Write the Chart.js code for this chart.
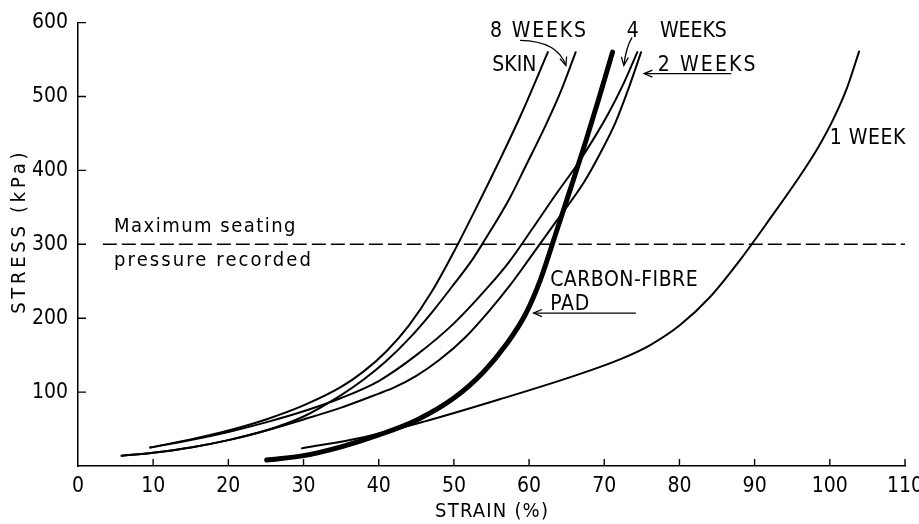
<!DOCTYPE html>
<html>
<head>
<meta charset="utf-8">
<script src="https://cdn.jsdelivr.net/npm/chart.js@4.4.0/dist/chart.umd.min.js"></script>
<style>
  html, body { margin: 0; padding: 0; background: #fff; }
  #wrap { width: 919px; height: 524px; }
</style>
</head>
<body>
<div id="wrap"><canvas id="stressChart" width="919" height="524"></canvas></div>
<script>
/* ───────────── DATA ───────────── */
const xTicks = [0, 10, 20, 30, 40, 50, 60, 70, 80, 90, 100, 110];
const yTicks = [100, 200, 300, 400, 500, 600];

const skinStrain = [9.6, 15, 20, 25, 30, 35, 38, 41, 44, 47, 50, 53, 56, 59, 62.5];
const skinStress = [25, 36, 48, 63, 82, 107, 128, 155, 190, 235, 290, 350, 412, 477, 560];

const week8Strain = [5.8, 10, 15, 20, 25, 30, 35, 38, 41, 44, 47, 50, 52.5, 54, 57.4, 59.6, 62.2, 64.3, 66.2];
const week8Stress = [14, 18, 25, 35, 48, 67, 96, 117, 142, 172, 207, 246, 280, 304, 362, 407, 461, 509, 560];

const week4Strain = [9.6, 15, 20, 25, 30, 35, 40, 45, 50, 54.7, 57.4, 60.5, 63.6, 66.4, 68.6, 70.6, 72.5, 74.4];
const week4Stress = [25, 35, 46, 59, 74, 92, 115, 150, 193, 244, 277, 322, 368, 408, 443, 478, 516, 560];

const week2Strain = [5.8, 10, 15, 20, 25, 30, 35, 40, 42, 45, 48, 51.5, 54.7, 57.5, 60, 63.6, 67.3, 69.5, 71.5, 73.2, 74.9];
const week2Stress = [14, 18, 25, 35, 48, 63, 79, 98, 106, 122, 143, 174, 210, 245, 280, 331, 384, 424, 465, 510, 560];

const week1Strain = [29.8, 38, 46, 56, 66, 72, 76, 80, 84, 88, 92, 96, 98.5, 100.5, 102.3, 103.9];
const week1Stress = [24, 39, 60, 90, 122, 144, 163, 190, 228, 278, 334, 392, 432, 470, 512, 561];

const padStrain = [25.1, 30, 35, 40, 45, 50, 54, 57, 59.5, 61.5, 63.5, 65.5, 67.5, 69.3, 71.1];
const padStress = [8, 14, 26, 42, 62, 92, 128, 165, 205, 252, 313, 375, 438, 498, 560];

const seatingStrain = [3.3, 110];
const seatingStress = [300, 300];

/* ───────────── STYLE ───────────── */
const FONT = '"DejaVu Sans Condensed", "Liberation Sans Narrow", "DejaVu Sans", sans-serif';

const pts = (xs, ys) => xs.map((x, i) => ({ x, y: ys[i] }));
const curve = (label, xs, ys, width) => ({
  label,
  data: pts(xs, ys),
  borderColor: "#000",
  borderWidth: width,
  pointRadius: 0,
  fill: false,
  cubicInterpolationMode: "monotone",
  borderCapStyle: "round"
});

/* text notes: left edge + baseline in data units, w = width in px */
const notes = [
  { text: "8 WEEKS", x: 54.8, y: 580, w: 98 },
  { text: "4", x: 73.0, y: 580, w: 11 },
  { text: "WEEKS", x: 77.4, y: 580, w: 66 },
  { text: "SKIN", x: 55.1, y: 534, w: 42 },
  { text: "2 WEEKS", x: 77.1, y: 534, w: 100 },
  { text: "1 WEEK", x: 100.0, y: 436, w: 76 },
  { text: "CARBON-FIBRE", x: 62.8, y: 243, w: 148 },
  { text: "PAD", x: 62.8, y: 211, w: 40 },
  { text: "Maximum seating", x: 4.8, y: 317, w: 183, size: 20 },
  { text: "pressure recorded", x: 4.8, y: 270, w: 199, size: 20 }
];

/* arrows: from -> (ctrl) -> tip, data units */
const arrows = [
  { from: [58.8, 576], ctrl: [63.8, 575], to: [64.9, 542] },
  { from: [73.7, 580], ctrl: [72.9, 567], to: [72.6, 542] },
  { from: [86.9, 531], to: [75.3, 531] },
  { from: [74.2, 207], to: [60.6, 207] }
];

const spacedText = (ctx, text, w, px, py, align) => {
  ctx.letterSpacing = "0px";
  const m = ctx.measureText(text).width;
  const ls = text.length > 1 ? Math.max(0, (w - m) / text.length) : 0;
  ctx.letterSpacing = ls.toFixed(2) + "px";
  const start = align === "center" ? px - (m + ls * (text.length - 1)) / 2 : px;
  ctx.fillText(text, start, py);
  ctx.letterSpacing = "0px";
};

const axisDecor = {
  id: "axisDecor",
  afterDraw(chart) {
    const { ctx, scales: { x, y }, chartArea: a } = chart;
    ctx.save();
    ctx.strokeStyle = "#000";
    ctx.lineWidth = 1.4;
    ctx.beginPath();
    xTicks.forEach(v => {
      if (v === 0) return;
      const px = x.getPixelForValue(v);
      ctx.moveTo(px, a.bottom);
      ctx.lineTo(px, a.bottom - 7);
    });
    yTicks.forEach(v => {
      const py = y.getPixelForValue(v);
      ctx.moveTo(a.left, py);
      ctx.lineTo(a.left + 8, py);
    });
    ctx.stroke();

    // axis titles, letter-spaced like the drafted original
    ctx.fillStyle = "#000";
    ctx.font = `20px ${FONT}`;
    ctx.textBaseline = "middle";
    ctx.textAlign = "left";
    spacedText(ctx, "STRAIN (%)", 114, (a.left + a.right) / 2, 512, "center");
    ctx.save();
    ctx.translate(20, y.getPixelForValue(315));
    ctx.rotate(-Math.PI / 2);
    spacedText(ctx, "STRESS (kPa)", 165, 0, 0, "center");
    ctx.restore();
    ctx.restore();
  }
};

const annotations = {
  id: "annotations",
  afterDatasetsDraw(chart) {
    const { ctx, scales: { x, y } } = chart;
    ctx.save();
    ctx.fillStyle = "#000";
    ctx.textBaseline = "alphabetic";
    ctx.textAlign = "left";
    notes.forEach(n => {
      ctx.font = `${n.size || 21}px ${FONT}`;
      spacedText(ctx, n.text, n.w, x.getPixelForValue(n.x), y.getPixelForValue(n.y), "left");
    });

    ctx.strokeStyle = "#000";
    ctx.lineWidth = 1.3;
    arrows.forEach(ar => {
      const fx = x.getPixelForValue(ar.from[0]), fy = y.getPixelForValue(ar.from[1]);
      const tx = x.getPixelForValue(ar.to[0]), ty = y.getPixelForValue(ar.to[1]);
      let cx = fx, cy = fy;
      ctx.beginPath();
      ctx.moveTo(fx, fy);
      if (ar.ctrl) {
        cx = x.getPixelForValue(ar.ctrl[0]);
        cy = y.getPixelForValue(ar.ctrl[1]);
        ctx.quadraticCurveTo(cx, cy, tx, ty);
      } else {
        ctx.lineTo(tx, ty);
      }
      ctx.stroke();
      const ang = Math.atan2(ty - cy, tx - cx);
      const len = 9, spread = 0.4;
      ctx.beginPath();
      ctx.moveTo(tx - len * Math.cos(ang - spread), ty - len * Math.sin(ang - spread));
      ctx.lineTo(tx, ty);
      ctx.lineTo(tx - len * Math.cos(ang + spread), ty - len * Math.sin(ang + spread));
      ctx.stroke();
    });
    ctx.restore();
  }
};

/* ───────────── CHART ───────────── */
const ctx = document.getElementById("stressChart").getContext("2d");
new Chart(ctx, {
  type: "line",
  data: {
    datasets: [
      curve("Carbon-fibre pad", padStrain, padStress, 5),
      curve("Skin", skinStrain, skinStress, 2),
      curve("8 weeks", week8Strain, week8Stress, 2),
      curve("4 weeks", week4Strain, week4Stress, 2),
      curve("2 weeks", week2Strain, week2Stress, 2),
      curve("1 week", week1Strain, week1Stress, 2),
      {
        label: "Maximum seating pressure recorded",
        data: pts(seatingStrain, seatingStress),
        borderColor: "#000",
        borderWidth: 1.6,
        borderDash: [14, 5],
        pointRadius: 0,
        tension: 0,
        fill: false
      }
    ]
  },
  options: {
    responsive: false,
    devicePixelRatio: 1,
    animation: false,
    layout: { padding: { top: 19, right: 14, left: 0, bottom: 0 } },
    plugins: { legend: { display: false }, tooltip: { enabled: false } },
    scales: {
      x: {
        type: "linear",
        min: 0,
        max: 110,
        afterBuildTicks: s => { s.ticks = xTicks.map(v => ({ value: v })); },
        afterFit: s => { s.height = 58; s.paddingRight = 14; s.paddingLeft = 0; },
        grid: { display: false, drawTicks: false },
        border: { display: true, color: "#000", width: 1.5 },
        ticks: { color: "#000", font: { family: FONT, size: 21 }, padding: 8, maxRotation: 0, autoSkip: false }
      },
      y: {
        type: "linear",
        min: 0,
        max: 600,
        afterBuildTicks: s => { s.ticks = yTicks.map(v => ({ value: v })); },
        afterFit: s => { s.width = 78; },
        grid: { display: false, drawTicks: false },
        border: { display: true, color: "#000", width: 1.5 },
        ticks: { color: "#000", font: { family: FONT, size: 21 }, padding: 10 }
      }
    }
  },
  plugins: [axisDecor, annotations]
});
</script>
</body>
</html>
